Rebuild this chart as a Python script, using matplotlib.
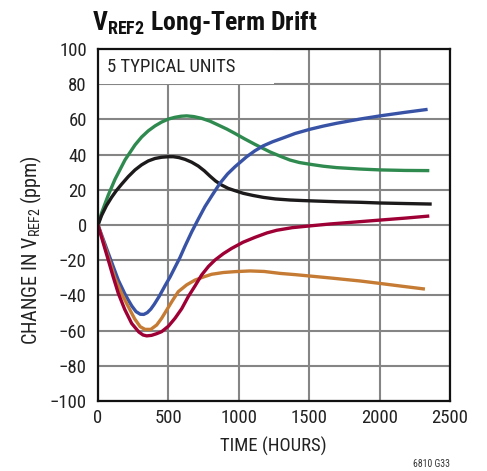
import matplotlib
matplotlib.use("Agg")
import matplotlib.pyplot as plt
from matplotlib import font_manager
from matplotlib.patches import Rectangle

# Prefer a narrow sans face when one is installed
_entries = font_manager.fontManager.ttflist
_names = {f.name for f in _entries}
narrow = None
for cand in ['Liberation Sans Narrow', 'Roboto Condensed', 'Open Sans Condensed',
             'DejaVu Sans Condensed', 'Noto Sans Condensed']:
    if cand in _names:
        narrow = cand
        break
stretch = 'normal'
if narrow is None:
    for f in _entries:
        if f.name in ('DejaVu Sans', 'Noto Sans', 'Roboto', 'Open Sans') and \
                str(f.stretch) in ('condensed', 'semi-condensed', '75', '87'):
            narrow = f.name
            stretch = 'condensed'
            break
if narrow is None:
    narrow = 'Liberation Sans'
plt.rcParams['font.family'] = [narrow, 'Liberation Sans', 'DejaVu Sans']
plt.rcParams['font.stretch'] = stretch
is_narrow = stretch == 'condensed' or narrow != 'Liberation Sans'

# Long-term drift of five typical units (hours, ppm)
blue_t = [0, 73, 144, 190, 215, 240, 270, 300, 325, 350, 375, 400, 435, 476, 512, 547,
          582, 618, 665, 710, 760, 810, 866, 920, 973, 1056, 1115, 1174, 1240, 1316, 1400,
          1506, 1600, 1695, 1861, 2003, 2180, 2341]
blue_v = [0, -16, -31.3, -39, -42.6, -46, -49.2, -50.7, -50.8, -49.8, -47.8, -45, -40.5,
          -34.5, -29.5, -24, -18.5, -12, -4, 3, 10.5, 16.8, 23.7, 29, 33.1, 38.8, 42.2, 45,
          47.3, 49.5, 52, 54.4, 56.2, 57.8, 60.2, 62, 64, 65.7]

green_t = [0, 26, 73, 121, 192, 263, 310, 357, 405, 452, 500, 547, 590, 630, 680, 736,
           795, 854, 915, 973, 1040, 1115, 1222, 1300, 1364, 1430, 1506, 1600, 1695, 1861,
           2003, 2180, 2353]
green_v = [0, 7, 17, 26, 37, 45.5, 50, 53.5, 56.3, 58.5, 60.2, 61.2, 61.8, 62, 61.6,
           60.6, 59, 56.8, 54.5, 52, 49, 45.8, 41.5, 38.9, 36.9, 35.5, 34.5, 33.4, 32.6,
           31.8, 31.3, 31.0, 30.9]

black_t = [0, 26, 60, 97, 130, 168, 215, 263, 310, 357, 405, 452, 500, 535, 575, 618,
           665, 712, 755, 795, 835, 878, 925, 973, 1032, 1100, 1174, 1260, 1364, 1450,
           1553, 1700, 1861, 2003, 2180, 2370]
black_v = [0, 5.5, 11, 15.8, 19.5, 23.2, 27.5, 31.3, 34.2, 36.4, 37.8, 38.5, 38.8, 38.8,
           38.3, 37.3, 35.7, 33.5, 30.8, 27.8, 25, 22.7, 20.8, 19.5, 18, 16.8, 15.7, 14.8,
           14.2, 13.9, 13.6, 13.2, 12.9, 12.5, 12.2, 11.9]

orange_t = [0, 60, 121, 168, 215, 260, 300, 334, 375, 417, 452, 488, 530, 570, 630, 689,
            750, 807, 890, 973, 1080, 1180, 1293, 1400, 1506, 1650, 1761, 1861, 2003, 2150,
            2322]
orange_v = [0, -15, -30.3, -39, -46.4, -53.3, -57.8, -59.3, -59.3, -56.8, -53, -48.3,
            -42.8, -37.9, -34, -31.3, -29.5, -28, -27, -26.5, -26.1, -26.4, -27.5, -28.2,
            -29, -30.1, -31, -31.8, -33.2, -34.7, -36.4]

red_t = [0, 40, 73, 108, 144, 190, 239, 290, 320, 346, 380, 415, 452, 500, 547, 595, 641,
         690, 736, 785, 831, 890, 949, 1030, 1115, 1200, 1269, 1380, 1506, 1650, 1861, 2003,
         2180, 2353]
red_v = [0, -11, -19.9, -29.5, -38.8, -48, -55.9, -60.8, -62.5, -63, -62.7, -61.8, -60.6,
         -57.5, -53, -47.5, -40.7, -34.5, -28.4, -23.5, -19.9, -16.3, -13.3, -9.8, -7,
         -4.5, -3, -1.5, -0.5, 0.6, 1.9, 2.8, 3.9, 5.1]

series = [
    (green_t, green_v, '#2f8a4f'),
    (black_t, black_v, '#1c1a1b'),
    (blue_t, blue_v, '#3853a6'),
    (orange_t, orange_v, '#c57b33'),
    (red_t, red_v, '#9e0035'),
]

x_ticks = [0, 500, 1000, 1500, 2000, 2500]
y_ticks = list(range(-100, 101, 20))

W, H = 487, 471
fig = plt.figure(figsize=(W / 100, H / 100), dpi=100)
ax = fig.add_axes([98 / W, 1 - 401 / H, 352 / W, 352 / H])

fs = 13.5 if is_narrow else 12.5

ax.set_xlim(0, 2500)
ax.set_ylim(-100, 100)
ax.set_xticks(x_ticks)
ax.set_yticks(y_ticks)
ax.set_xticklabels([str(t) for t in x_ticks])
ax.set_yticklabels([str(t).replace('-', '\u2212') for t in y_ticks])
ax.tick_params(length=0, labelsize=fs, colors='#222222')
ax.tick_params(axis='x', pad=6)
ax.tick_params(axis='y', pad=8)

ax.set_axisbelow(True)
ax.grid(True, color='#858585', linewidth=1.5)
for s in ax.spines.values():
    s.set_linewidth(1.6)
    s.set_color('#111111')

# white panel behind the annotation
ax.add_patch(Rectangle((0, 80), 1250, 20, facecolor='white', edgecolor='none', zorder=1))
ax.text(64, 89.8, '5 TYPICAL UNITS', fontsize=fs if is_narrow else 11, va='center',
        ha='left', color='#222222', zorder=3)

for t, v, c in series:
    ax.plot(t, v, color=c, linewidth=2.4, solid_capstyle='butt', solid_joinstyle='round',
            zorder=2)

fig.text(273.5 / W, 1 - 446 / H, 'TIME (HOURS)', fontsize=fs if is_narrow else 12,
         ha='center', va='center', color='#222222')
fig.text(31 / W, 1 - 250 / H, 'CHANGE IN V$_{\\mathregular{REF2}}$ (ppm)',
         fontsize=fs + 1 if is_narrow else 13.5, rotation=90, ha='center', va='center',
         color='#222222')

fig.text(92 / W, 1 - 23 / H, r'V$_{\mathregular{REF2}}$ Long-Term Drift',
         fontsize=18.5 if is_narrow else 16.5, fontweight='bold', va='center', ha='left',
         color='#111111')
fig.text(450 / W, 1 - 464 / H, '6810 G33', fontsize=7, ha='right', va='center',
         color='#333333')

fig.savefig('out.png', dpi=100)
